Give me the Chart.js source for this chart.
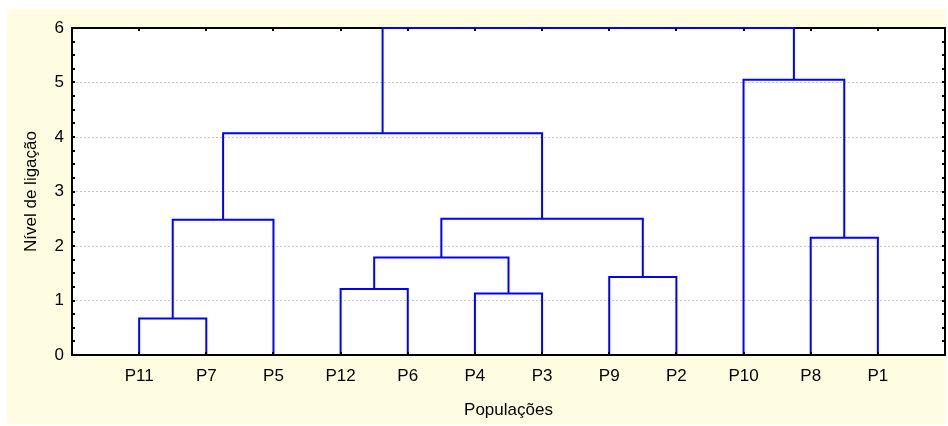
<!DOCTYPE html>
<html>
<head>
<meta charset="utf-8">
<script src="https://cdn.jsdelivr.net/npm/chart.js@4/dist/chart.umd.min.js"></script>
<style>
  html, body { margin: 0; padding: 0; background: #ffffff; }
  #wrap { width: 948px; height: 426px; }
</style>
</head>
<body>
<div id="wrap"><canvas id="c" width="948" height="426"></canvas></div>
<script>
// ---- Data ----
const populations = ['P11','P7','P5','P12','P6','P4','P3','P9','P2','P10','P8','P1'];
// Linkage: node ids 0..11 are leaves (index into populations), 12+ are clusters in merge order
const mergeLeft   = [0, 12, 3, 5, 14, 7, 16, 13, 10, 9, 19];
const mergeRight  = [1, 2, 4, 6, 15, 8, 17, 18, 11, 20, 21];
const mergeHeight = [0.67, 2.48, 1.21, 1.13, 1.79, 1.43, 2.50, 4.07, 2.15, 5.05, 6.00];
const yTicks = [0, 1, 2, 3, 4, 5, 6];
const xTitle = 'Populações';
const yTitle = 'Nível de ligação';

// ---- Build dendrogram segments from the linkage ----
const nodeX = populations.map((_, i) => i + 1);
const nodeH = populations.map(() => 0);
const datasets = [];
for (let k = 0; k < mergeHeight.length; k++) {
  const a = mergeLeft[k], b = mergeRight[k], h = mergeHeight[k];
  datasets.push({
    data: [
      { x: nodeX[a], y: nodeH[a] },
      { x: nodeX[a], y: h },
      { x: nodeX[b], y: h },
      { x: nodeX[b], y: nodeH[b] }
    ],
    showLine: true,
    borderColor: '#0000FF',
    borderWidth: 2,
    pointRadius: 0,
    tension: 0,
    fill: false,
    clip: false
  });
  nodeX.push((nodeX[a] + nodeX[b]) / 2);
  nodeH.push(h);
}

const FONT = '"Liberation Sans", Arial, sans-serif';
const FSIZE = 17;

const decor = {
  id: 'decor',
  beforeDraw(chart) {
    const ctx = chart.ctx, ca = chart.chartArea;
    ctx.save();
    ctx.fillStyle = '#ffffff';
    ctx.fillRect(0, 0, chart.width, chart.height);
    ctx.fillStyle = '#FFFDE1';
    ctx.fillRect(7, 9, 939, 415);
    ctx.fillStyle = '#ffffff';
    ctx.fillRect(ca.left, ca.top, ca.right - ca.left, ca.bottom - ca.top);
    ctx.restore();
  },
  beforeDatasetsDraw(chart) {
    const ctx = chart.ctx, ca = chart.chartArea;
    ctx.save();
    ctx.strokeStyle = '#000000';
    ctx.lineWidth = 2;
    ctx.strokeRect(ca.left, ca.top, ca.right - ca.left, ca.bottom - ca.top);
    ctx.restore();
  },
  afterDatasetsDraw(chart) {
    const ctx = chart.ctx, ca = chart.chartArea;
    const xs = chart.scales.x, ys = chart.scales.y;
    ctx.save();
    ctx.strokeStyle = '#000000';
    ctx.lineWidth = 2;
    ctx.beginPath();
    for (let v = 0; v <= 6.0001; v += 0.25) {
      const py = Math.round(ys.getPixelForValue(v));
      ctx.moveTo(ca.left, py); ctx.lineTo(ca.left + 3, py);
      ctx.moveTo(ca.right, py); ctx.lineTo(ca.right - 3, py);
    }
    for (let i = 0; i < populations.length; i++) {
      const px = Math.round(xs.getPixelForValue(i + 1));
      ctx.moveTo(px, ca.bottom); ctx.lineTo(px, ca.bottom - 3);
      ctx.moveTo(px, ca.top); ctx.lineTo(px, ca.top + 3);
    }
    ctx.stroke();
    ctx.restore();
  }
};

new Chart(document.getElementById('c'), {
  type: 'scatter',
  data: { datasets },
  options: {
    responsive: false,
    animation: false,
    events: [],
    layout: { padding: { top: 28, right: 3, left: 0, bottom: 0 } },
    plugins: { legend: { display: false }, tooltip: { enabled: false } },
    scales: {
      x: {
        type: 'linear',
        min: 0, max: 13,
        afterBuildTicks: (s) => { s.ticks = populations.map((_, i) => ({ value: i + 1 })); },
        afterFit: (s) => { s.height = 71; },
        grid: { display: false, drawTicks: false },
        border: { display: false },
        ticks: {
          autoSkip: false, maxRotation: 0, padding: 11,
          color: '#000000',
          font: { family: FONT, size: FSIZE },
          callback: (v) => populations[v - 1] || ''
        },
        title: {
          display: true, text: xTitle, color: '#000000',
          font: { family: FONT, size: FSIZE },
          padding: { top: 0, bottom: 5 }
        }
      },
      y: {
        type: 'linear',
        min: 0, max: 6,
        afterBuildTicks: (s) => { s.ticks = yTicks.map(v => ({ value: v })); },
        afterFit: (s) => { s.width = 72; },
        grid: { color: '#c8c8c8', lineWidth: 1, drawTicks: false },
        border: { display: false, dash: [2, 2] },
        ticks: {
          padding: 8, color: '#000000',
          font: { family: FONT, size: FSIZE }
        },
        title: {
          display: true, text: yTitle, color: '#000000',
          font: { family: FONT, size: FSIZE },
          padding: { top: 21, bottom: 0 }
        }
      }
    }
  },
  plugins: [decor]
});
</script>
</body>
</html>
